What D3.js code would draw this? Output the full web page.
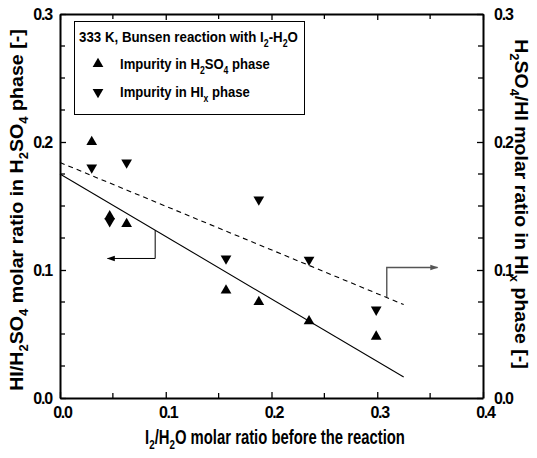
<!DOCTYPE html>
<html><head><meta charset="utf-8">
<script src="https://cdn.jsdelivr.net/npm/d3@7"></script>
<style>
body{margin:0;background:#fff;}
svg{display:block;font-family:"Liberation Sans",Arial,sans-serif;font-weight:bold;}
</style></head>
<body><svg id="c" width="537" height="458"></svg>
<script>
// ---- data ----
const xUp   = [0.030, 0.047, 0.063, 0.157, 0.188, 0.2355, 0.299];
const yUp   = [0.200, 0.142, 0.136, 0.084, 0.075, 0.060, 0.048];
const xDown = [0.030, 0.047, 0.063, 0.157, 0.188, 0.2355, 0.299];
const yDown = [0.180, 0.138, 0.184, 0.109, 0.155, 0.108, 0.069];
const fitSolidX = [0, 0.325], fitSolidY = [0.175, 0.0164];
const fitDashX  = [0, 0.325], fitDashY  = [0.184, 0.073];
const xTicks = [0.0, 0.1, 0.2, 0.3, 0.4];
const yTicks = [0.0, 0.1, 0.2, 0.3];
const xMinor = [0.05, 0.15, 0.25, 0.35];
const yMinor = [0.025,0.05,0.075,0.125,0.15,0.175,0.225,0.25,0.275];
const arrowLeftX = [0.09, 0.09, 0.045], arrowLeftY = [0.131, 0.109, 0.109];
const arrowRightX = [0.309, 0.309, 0.357], arrowRightY = [0.079, 0.102, 0.102];

const svg = d3.select("#c");
const m = {l:60, r:483, t:14, b:398};
const x = d3.scaleLinear().domain([0,0.4]).range([m.l, m.r]);
const y = d3.scaleLinear().domain([0,0.3]).range([m.b, m.t]);

function rich(sel, arr){
  let inSub=false;
  arr.forEach(a=>{
    if(typeof a==="string"){
      const t = sel.append("tspan").text(a);
      if(inSub) t.attr("dy", -4.5);
      inSub=false;
    } else {
      sel.append("tspan").text(a.s).attr("dy", 4.5).attr("font-size","0.66em");
      inSub=true;
    }
  });
}
// text fitted to a given width, placed via translate/rotate
function fitted(parent, arr, opts){
  const g = parent.append("g").attr("transform",`translate(${opts.x},${opts.y}) rotate(${opts.rot||0})`);
  const t = g.append("text").attr("font-size",opts.size).attr("text-anchor",opts.anchor||"start");
  rich(t, arr);
  const w = t.node().getComputedTextLength();
  t.attr("transform",`scale(${opts.width/w},1)`);
  return t;
}

// axes
const tickFmt = d3.format(".1f");
const axB = d3.axisBottom(x).tickValues(xTicks).tickFormat(tickFmt).tickSizeInner(-6).tickSizeOuter(0).tickPadding(9);
const axT = d3.axisTop(x).tickValues(xTicks).tickFormat("").tickSizeInner(-6).tickSizeOuter(0);
const axL = d3.axisLeft(y).tickValues(yTicks).tickFormat(tickFmt).tickSizeInner(-6).tickSizeOuter(0).tickPadding(12);
const axR = d3.axisRight(y).tickValues(yTicks).tickFormat(tickFmt).tickSizeInner(-6).tickSizeOuter(0).tickPadding(15);

function style(g){
  g.select(".domain").attr("stroke","#000").attr("stroke-width",2);
  g.selectAll(".tick line").attr("stroke","#000").attr("stroke-width",1.3);
  g.selectAll(".tick text").attr("font-size",16).attr("font-weight","bold").attr("fill","#000")
   .attr("font-family","'Liberation Sans',Arial,sans-serif").attr("letter-spacing",-1.2);
}
svg.append("g").attr("transform",`translate(0,${m.b})`).call(axB).call(style)
  .call(g=>g.selectAll(".tick text").attr("dx",2));
svg.append("g").attr("transform",`translate(0,${m.t})`).call(axT).call(style);
svg.append("g").attr("transform",`translate(${m.l},0)`).call(axL).call(style)
  .call(g=>g.selectAll(".tick text").attr("dx",4));
svg.append("g").attr("transform",`translate(${m.r},0)`).call(axR).call(style)
  .call(g=>g.selectAll(".tick text").attr("dx",-4));
// minor ticks
const minor = svg.append("g").attr("stroke","#000").attr("stroke-width",1.3);
xMinor.forEach(v=>{
  minor.append("line").attr("x1",x(v)).attr("x2",x(v)).attr("y1",m.b).attr("y2",m.b-5);
  minor.append("line").attr("x1",x(v)).attr("x2",x(v)).attr("y1",m.t).attr("y2",m.t+5);
});
yMinor.forEach(v=>{
  minor.append("line").attr("x1",m.l).attr("x2",m.l+5).attr("y1",y(v)).attr("y2",y(v));
  minor.append("line").attr("x1",m.r).attr("x2",m.r-5).attr("y1",y(v)).attr("y2",y(v));
});

// fit lines
const line = d3.line().x(d=>x(d[0])).y(d=>y(d[1]));
svg.append("path").attr("d", line(d3.zip(fitSolidX, fitSolidY)))
  .attr("fill","none").attr("stroke","#000").attr("stroke-width",1.1);
svg.append("path").attr("d", line(d3.zip(fitDashX, fitDashY)))
  .attr("fill","none").attr("stroke","#000").attr("stroke-width",1.1).attr("stroke-dasharray","5,4");

// markers
const tri = d3.symbol().type(d3.symbolTriangle).size(50);
svg.append("g").selectAll("path").data(d3.zip(xUp,yUp)).join("path")
  .attr("d", tri).attr("transform", d=>`translate(${x(d[0])},${y(d[1])})`).attr("fill","#000");
svg.append("g").selectAll("path").data(d3.zip(xDown,yDown)).join("path")
  .attr("d", tri).attr("transform", d=>`translate(${x(d[0])},${y(d[1])}) rotate(180)`).attr("fill","#000");

// arrows
const defs = svg.append("defs");
function marker(id,color){
  defs.append("marker").attr("id",id).attr("viewBox","0 0 10 10").attr("refX",9).attr("refY",5)
    .attr("markerWidth",11).attr("markerHeight",8).attr("markerUnits","userSpaceOnUse").attr("orient","auto")
    .append("path").attr("d","M0,1.5L10,5L0,8.5Z").attr("fill",color);
}
marker("ahL","#000"); marker("ahR","#555");
svg.append("path").attr("d", line(d3.zip(arrowLeftX, arrowLeftY)))
  .attr("fill","none").attr("stroke","#000").attr("stroke-width",1).attr("marker-end","url(#ahL)");
svg.append("path").attr("d", line(d3.zip(arrowRightX, arrowRightY)))
  .attr("fill","none").attr("stroke","#555").attr("stroke-width",1.4).attr("marker-end","url(#ahR)");

// legend
const lg = svg.append("g");
lg.append("rect").attr("x",74.5).attr("y",21.5).attr("width",230).attr("height",93)
  .attr("fill","#fff").attr("stroke","#000").attr("stroke-width",1);
fitted(lg, ["333 K, Bunsen reaction with I",{s:"2"},"-H",{s:"2"},"O"], {x:79,y:42,size:15.5,width:219});
lg.append("path").attr("d",tri).attr("transform","translate(98,64)");
lg.append("path").attr("d",tri).attr("transform","translate(98,92) rotate(180)");
fitted(lg, ["Impurity in H",{s:"2"},"SO",{s:"4"}," phase"], {x:120,y:69,size:15.5,width:150});
fitted(lg, ["Impurity in HI",{s:"x"}," phase"], {x:120,y:97,size:15.5,width:130});

// axis titles
fitted(svg, ["I",{s:"2"},"/H",{s:"2"},"O molar ratio before the reaction"], {x:275,y:444,size:19.5,width:260,anchor:"middle"});
fitted(svg, ["HI/H",{s:"2"},"SO",{s:"4"}," molar ratio in H",{s:"2"},"SO",{s:"4"}," phase [-]"], {x:23,y:210,size:18,width:362,anchor:"middle",rot:-90});
fitted(svg, ["H",{s:"2"},"SO",{s:"4"},"/HI molar ratio in HI",{s:"x"}," phase [-]"], {x:515,y:204,size:18,width:330,anchor:"middle",rot:90});
</script></body></html>
